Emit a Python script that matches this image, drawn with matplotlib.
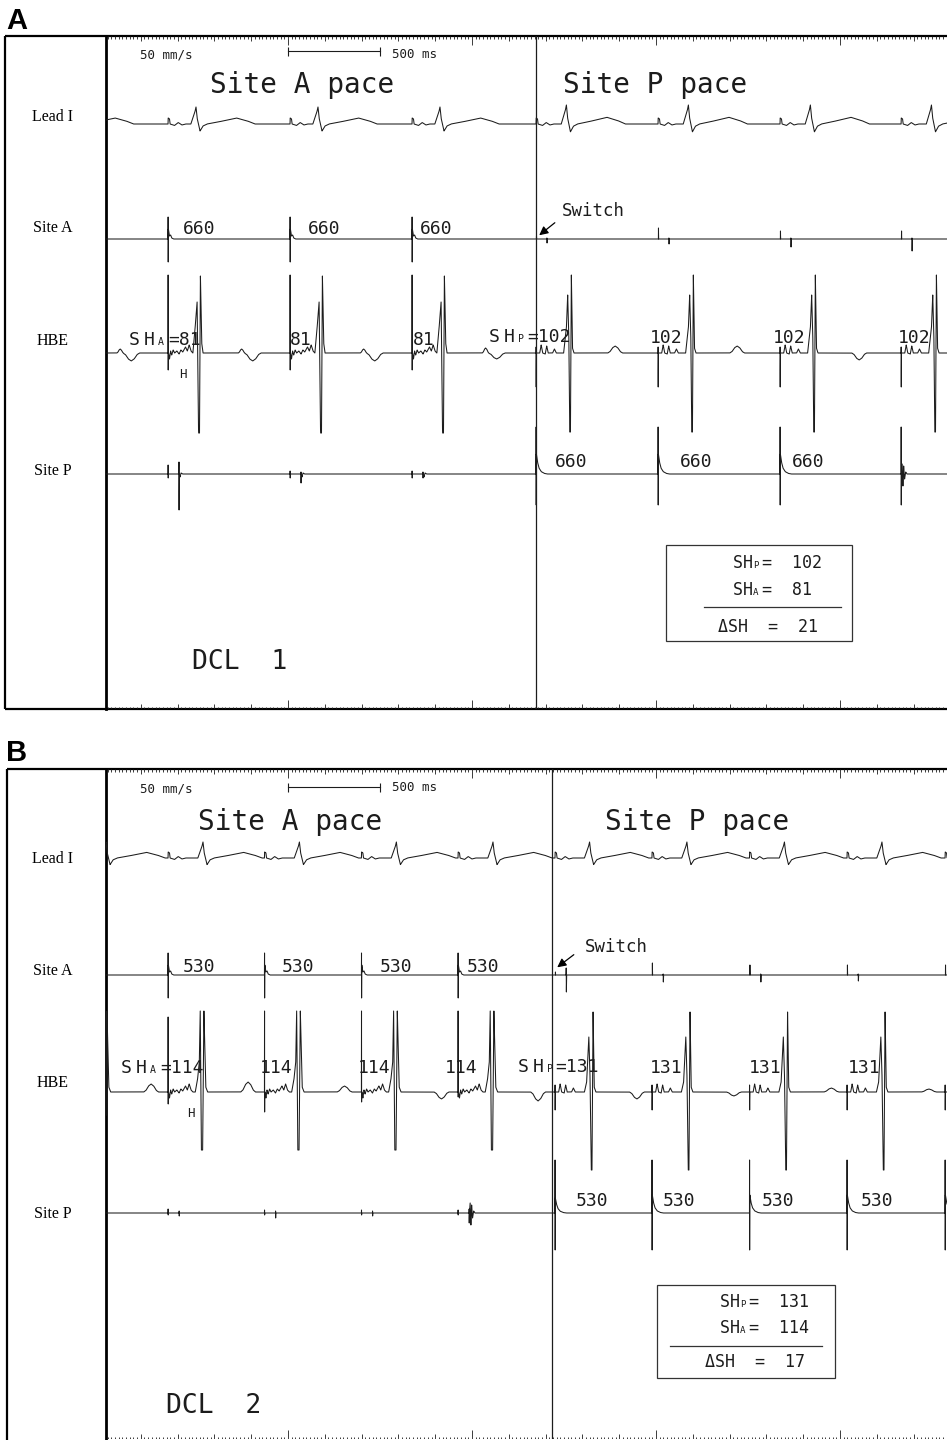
import numpy as np
import matplotlib
matplotlib.use("Agg")
import matplotlib.pyplot as plt
from matplotlib.patches import Rectangle

# ---------------------------------------------------------------- data
# stimulus times (ms); first entry of each Site-A list precedes the window
A_PACE_A = [-312, 348, 1011, 1674]
A_PACE_P = [2348, 3011, 3674, 4332]
A_SWITCH = 2348
B_PACE_A = [-179, 348, 872, 1399, 1924]
B_PACE_P = [2451, 2978, 3508, 4038, 4571]
B_SWITCH = 2435

A_CYCLE, A_SHA, A_SHP = 660, 81, 102
B_CYCLE, B_SHA, B_SHP = 530, 114, 131

CHANNELS = ["Lead I", "Site A", "HBE", "Site P"]

# Lead I: stimulus -> QRS peak delay (ms) and QRS peak height
A_LEAD_DELAY = [152, 152, 152, 152, 165, 165, 165, 165]
A_LEAD_AMP = [17, 17, 17, 17, 19, 19, 19, 19]
B_LEAD_DELAY = [190, 190, 190, 190, 190, 188, 190, 190, 190, 190]
B_LEAD_AMP = [16, 16, 16, 16, 16, 16, 16, 16, 16, 16]

# Site A electrogram during Site P pacing: tick at stimulus, later deflection
A_SA_TICK = [3, 11, 8, 8]
A_SA_DIP = [4, 5, 8, 12]
A_SA_DIP_UP = [1, 1, 1, 1]
B_SA_TICK = [3, 12, 10, 10, 10]
B_SA_DIP = [17, 7, 7, 6, 6]
B_SA_DIP_UP = [7, 1, 1, 1, 1]

# HBE
A_HBE_STIM_UP = [78, 78, 78, 78]
A_HBE_STIM_DN = [17, 17, 17, 17]
A_HBE_T_UP = [4, 4, 4, 5]
A_HBE_T_DN = [8, 8, 8, 6]
A_HBE_P_STIM_UP = [6, 6, 6, 6]
A_HBE_P_STIM_DN = [34, 34, 34, 34]
A_HBE_P_T = [7, 7, -7, 0]
B_HBE_STIM_UP = [80, 75, 81, 81, 81]
B_HBE_STIM_DN = [15, 12, 20, 10, 5]
B_HBE_T = [8, 10, 6, -7, -9]
B_HBE_P_STIM_UP = [7, 7, 7, 7, 7]
B_HBE_P_STIM_DN = [18, 18, 18, 18, 18]
B_HBE_P_T = [-7, -4, 4, 3, 0]

# Site P electrogram
A_SP_A_TICK = [9, 3, 3]
A_SP_A_DEF_UP = [12, 2, 2]
A_SP_A_DEF_DN = [36, 9, 4]
A_SP_P_UP = [47, 47, 47, 47]
A_SP_P_DN = [31, 31, 31, 31]
A_SP_P_DECAY = [20, 20, 20, 0]
A_SP_P_RING = [0, 0, 0, 1]
B_SP_A_TICK = [4, 3, 3, 3]
B_SP_A_DEF_UP = [2, 2, 2, 4]
B_SP_A_DEF_DN = [3, 5, 3, 10]
B_SP_A_RING = [0, 0, 0, 1]
B_SP_P_UP = [53, 53, 53, 53, 53]
B_SP_P_DN = [37, 37, 37, 37, 37]
B_SP_P_DECAY = [15, 18, 18, 18, 18]

# waveform shapes (ms offsets, amplitude)
LEAD_STIM_DT = [0, 1, 8, 11, 35, 55, 75, 95]
LEAD_STIM_Y = [0, 6, 5, 0, -1.5, 1.5, -1, 0]
LEAD_QRS_DT = [-28, -6, 0, 6, 22, 38, 60, 120, 220, 280, 320]
LEAD_QRS_Y = [0, 12, 17, 6, -7, -2, 0, 2, 6, 3, 0]
SA_ART_DT = [0, 0.5, 1.0, 1.5, 2.0, 8, 14, 20, 30]
SA_ART_Y = [0, 22, -23, 0, 10, 3, 4, 1, 0]
HBE_A_H_DT = [3, 8, 14, 20, 28, 36, 48, 60, 70, 80, 95, 105, 115, 125, 135]
HBE_A_H_Y = [0, -6, 2, -2, 3, 0, 2, -1, 3, 1, 6, 2, 8, 2, 0]
HBE_A_QRS_DT = [135, 145, 158, 162, 166, 171, 176, 183, 190]
HBE_A_QRS_Y = [0, 20, 51, -20, -80, -80, 77, 10, 0]
HBE_P_H_DT = [3, 20, 28, 36, 50, 58, 66, 90, 100, 110, 140]
HBE_P_H_Y = [0, 0, 8, 0, -1, 7, 0, 0, 4, 0, 0]
HBE_P_QRS_DT = [150, 165, 172, 178, 183, 187, 192, 198, 206]
HBE_P_QRS_Y = [0, 25, 58, 20, -79, -79, 78, 5, 0]
HBE_BA_QRS_DT = [148, 160, 170, 175, 181, 188, 195, 205, 215]
HBE_BA_QRS_Y = [0, 12, 30, 81, -58, -58, 81, 5, 0]
HBE_BP_QRS_DT = [160, 172, 184, 190, 197, 201, 207, 213, 222]
HBE_BP_QRS_Y = [0, 10, 55, 20, -78, -78, 80, 5, 0]
BUMP_DT = [-1, -0.7, -0.35, 0, 0.35, 0.7, 1]
BUMP_Y = [0, 0.2, 0.75, 1, 0.75, 0.2, 0]
DECAY_DT = [1.5, 2, 8, 16, 28, 45, 60]
DECAY_Y = [0, 1, 0.6, 0.3, 0.12, 0.03, 0]
RING_DT = [2, 6, 10, 14, 19, 25, 32]
RING_Y = [0, 10, -12, 8, -5, 2, 0]

# ---------------------------------------------------------------- layout
W, H = 947, 1440
K = 0.184          # px per ms (50 mm/s)
X0 = 106
MONO = "DejaVu Sans Mono"
SERIF = "Liberation Serif"
INK = "#1c1c1c"

fig = plt.figure(figsize=(W / 100, H / 100), dpi=100)
ax0 = fig.add_axes([0, 0, 1, 1])
ax0.set_xlim(0, W)
ax0.set_ylim(H, 0)
ax0.axis("off")


def panel_axes(top, bottom):
    ax = fig.add_axes([X0 / W, 1 - bottom / H, (W - X0) / W, (bottom - top) / H])
    ax.set_facecolor("none")
    ax.axis("off")
    ax.set_xlim(1000 - (288 - X0) / K, 1000 + (W - 288) / K)
    ax.set_ylim(bottom, top)
    return ax


def grid(ax):
    lo, hi = ax.get_xlim()
    return np.arange(np.floor(lo), np.ceil(hi), 0.25)


def add(y, t, s, dt, amp, scale=1.0):
    tt = s + np.asarray(dt, float)
    m = (t >= tt[0]) & (t <= tt[-1])
    y[m] += scale * np.interp(t[m], tt, np.asarray(amp, float))


def spike(y, t, s, up, dn):
    add(y, t, s, [0, 0.5, 1.0, 1.5], [0, up, -dn, 0])


def bump(y, t, c, amp, w):
    add(y, t, c, np.asarray(BUMP_DT) * w, np.asarray(BUMP_Y) * amp)


def ruler(ax, top, bottom):
    lo, hi = ax.get_xlim()
    ticks = np.arange(np.ceil(lo / 20) * 20, hi, 20)
    lens = np.where(ticks % 1000 == 0, 9, np.where(ticks % 200 == 0, 5, 2.5))
    ax.vlines(ticks, top, top + lens, color=INK, lw=0.6)
    ax.vlines(ticks, bottom - lens, bottom, color=INK, lw=0.6)


def frame(top, bottom, left):
    kw = dict(color="black", lw=1.6, solid_capstyle="butt")
    ax0.plot([left, W], [top, top], **kw)
    ax0.plot([left, W], [bottom, bottom], **kw)
    ax0.plot([left, left], [top, bottom], **kw)
    ax0.plot([X0, X0], [top, bottom], color="black", lw=2.0)


def txt(x, y, s, size=13, **kw):
    ax0.text(x, y, s, family=MONO, fontsize=size, va="baseline", color=INK, **kw)


def sh(x, y, sub, rest, size=13, h_dx=15, sub_dx=29, rest_dx=40):
    txt(x, y, "S", size)
    txt(x + h_dx, y, "H", size)
    txt(x + sub_dx, y, sub, size * 0.55)
    txt(x + rest_dx, y, rest, size)


def draw_trace(ax, t, base, sig):
    ax.plot(t, base - sig, color=INK, lw=0.75)


# ================================================================ panel A
ATOP, ABOT = 36, 709
axA = panel_axes(ATOP, ABOT)
tA = grid(axA)
A_BASE = [124, 239, 353, 474]

lead = np.zeros_like(tA)
for i, s in enumerate(A_PACE_A + A_PACE_P):
    add(lead, tA, s, LEAD_STIM_DT, LEAD_STIM_Y)
    add(lead, tA, s + A_LEAD_DELAY[i], LEAD_QRS_DT, LEAD_QRS_Y, A_LEAD_AMP[i] / 17)
draw_trace(axA, tA, A_BASE[0], lead)

sa = np.zeros_like(tA)
for s in A_PACE_A[1:]:
    add(sa, tA, s, SA_ART_DT, SA_ART_Y)
for i, s in enumerate(A_PACE_P):
    add(sa, tA, s + 2, [0, 0.5, 1.0], [0, A_SA_TICK[i], 0])
    add(sa, tA, s + 58, [0, 1, 2, 3, 6], [0, A_SA_DIP_UP[i], -A_SA_DIP[i], 0, 0])
draw_trace(axA, tA, A_BASE[1], sa)

hbe = np.zeros_like(tA)
for i, s in enumerate(A_PACE_A):
    spike(hbe, tA, s, A_HBE_STIM_UP[i], A_HBE_STIM_DN[i])
    add(hbe, tA, s, HBE_A_H_DT, HBE_A_H_Y)
    add(hbe, tA, s, HBE_A_QRS_DT, HBE_A_QRS_Y)
    bump(hbe, tA, s + 400, A_HBE_T_UP[i], 18)
    bump(hbe, tA, s + 460, -A_HBE_T_DN[i], 45)
for i, s in enumerate(A_PACE_P):
    spike(hbe, tA, s, A_HBE_P_STIM_UP[i], A_HBE_P_STIM_DN[i])
    add(hbe, tA, s, HBE_P_H_DT, HBE_P_H_Y)
    add(hbe, tA, s, HBE_P_QRS_DT, HBE_P_QRS_Y)
    bump(hbe, tA, s + 430, A_HBE_P_T[i], 40)
draw_trace(axA, tA, A_BASE[2], hbe)

sp = np.zeros_like(tA)
for i, s in enumerate(A_PACE_A[1:]):
    spike(sp, tA, s, A_SP_A_TICK[i], 4)
    spike(sp, tA, s + 59, A_SP_A_DEF_UP[i], A_SP_A_DEF_DN[i])
    add(sp, tA, s + 59, [2, 6, 12, 20], [0, -3, 1, 0])
for i, s in enumerate(A_PACE_P):
    spike(sp, tA, s, A_SP_P_UP[i], A_SP_P_DN[i])
    add(sp, tA, s, DECAY_DT, DECAY_Y, A_SP_P_DECAY[i])
    add(sp, tA, s, RING_DT, RING_Y, A_SP_P_RING[i])
draw_trace(axA, tA, A_BASE[3], sp)

axA.axvline(A_SWITCH, color=INK, lw=0.9)
ruler(axA, ATOP, ABOT)
axA.plot([1000, 1500], [51, 51], color=INK, lw=0.8)
axA.vlines([1000, 1500], 47, 56, color=INK, lw=0.8)

frame(ATOP, ABOT, 5)
ax0.text(6, 29, "A", family="Liberation Sans", weight="bold", fontsize=21, va="baseline")
txt(140, 59, "50 mm/s", 9)
txt(392, 58, "500 ms", 9)
txt(210, 93, "Site A pace", 20)
txt(563, 93, "Site P pace", 20)
for lab, yy in zip(CHANNELS, [117, 228, 341, 471]):
    ax0.text(53, yy, lab, family=SERIF, fontsize=11.5, ha="center", va="center")
for xx in [183, 308, 420]:
    txt(xx, 234, str(A_CYCLE))
for xx in [555, 680, 792]:
    txt(xx, 467, str(A_CYCLE))
sh(129, 345, "A", "=" + str(A_SHA), rest_dx=39)
for xx in [290, 413]:
    txt(xx, 345, str(A_SHA))
sh(489, 342, "P", "=" + str(A_SHP), rest_dx=38)
for xx in [650, 773, 898]:
    txt(xx, 343, str(A_SHP))
txt(183, 378, "H", 9, ha="center")
txt(562, 216, "Switch", 12.5)
ax0.annotate("", xy=(537, 237), xytext=(557, 221),
             arrowprops=dict(arrowstyle="-|>", color="black", lw=0.9, mutation_scale=13))
ax0.add_patch(Rectangle((666, 545), 186, 96, fill=False, ec="#333333", lw=0.9))
sh(733, 568, "P", "=  " + str(A_SHP), size=12, h_dx=10, sub_dx=20, rest_dx=29)
sh(733, 595, "A", "=  " + str(A_SHA), size=12, h_dx=10, sub_dx=20, rest_dx=29)
ax0.plot([704, 841], [607, 607], color="#333333", lw=0.9)
txt(718, 632, "\u0394SH  =  " + str(A_SHP - A_SHA), 12)
txt(192, 669, "DCL  1", 19)

# ================================================================ panel B
BTOP, BBOT = 769, 1439
axB = panel_axes(BTOP, BBOT)
tB = grid(axB)
B_BASE = [858, 975, 1092, 1213]

lead = np.zeros_like(tB)
for i, s in enumerate(B_PACE_A + B_PACE_P):
    add(lead, tB, s, LEAD_STIM_DT, LEAD_STIM_Y)
    add(lead, tB, s + B_LEAD_DELAY[i], LEAD_QRS_DT, LEAD_QRS_Y, B_LEAD_AMP[i] / 17)
draw_trace(axB, tB, B_BASE[0], lead)

sa = np.zeros_like(tB)
for s in B_PACE_A[1:]:
    add(sa, tB, s, SA_ART_DT, SA_ART_Y)
for i, s in enumerate(B_PACE_P):
    add(sa, tB, s + 2, [0, 0.5, 1.0], [0, B_SA_TICK[i], 0])
    add(sa, tB, s + 60, [0, 1, 2, 3, 6], [0, B_SA_DIP_UP[i], -B_SA_DIP[i], 0, 0])
draw_trace(axB, tB, B_BASE[1], sa)

hbe = np.zeros_like(tB)
for i, s in enumerate(B_PACE_A):
    spike(hbe, tB, s, B_HBE_STIM_UP[i], B_HBE_STIM_DN[i])
    add(hbe, tB, s, HBE_A_H_DT, HBE_A_H_Y)
    add(hbe, tB, s, HBE_BA_QRS_DT, HBE_BA_QRS_Y)
    bump(hbe, tB, s + 435, B_HBE_T[i], 40)
for i, s in enumerate(B_PACE_P):
    spike(hbe, tB, s, B_HBE_P_STIM_UP[i], B_HBE_P_STIM_DN[i])
    add(hbe, tB, s, HBE_P_H_DT, HBE_P_H_Y)
    add(hbe, tB, s, HBE_BP_QRS_DT, HBE_BP_QRS_Y)
    bump(hbe, tB, s + 445, B_HBE_P_T[i], 40)
draw_trace(axB, tB, B_BASE[2], hbe)

sp = np.zeros_like(tB)
for i, s in enumerate(B_PACE_A[1:]):
    spike(sp, tB, s, B_SP_A_TICK[i], 2)
    spike(sp, tB, s + 60, B_SP_A_DEF_UP[i], B_SP_A_DEF_DN[i])
    add(sp, tB, s + 60, RING_DT, RING_Y, B_SP_A_RING[i])
for i, s in enumerate(B_PACE_P):
    spike(sp, tB, s, B_SP_P_UP[i], B_SP_P_DN[i])
    add(sp, tB, s, DECAY_DT, DECAY_Y, B_SP_P_DECAY[i])
draw_trace(axB, tB, B_BASE[3], sp)

axB.axvline(B_SWITCH, color=INK, lw=0.9)
ruler(axB, BTOP, BBOT)
axB.plot([1000, 1500], [787, 787], color=INK, lw=0.8)
axB.vlines([1000, 1500], 783, 792, color=INK, lw=0.8)

frame(BTOP, BBOT + 5, 7)
ax0.text(6, 761, "B", family="Liberation Sans", weight="bold", fontsize=21, va="baseline")
txt(140, 792, "50 mm/s", 9)
txt(392, 791, "500 ms", 9)
txt(198, 830, "Site A pace", 20)
txt(605, 830, "Site P pace", 20)
for lab, yy in zip(CHANNELS, [859, 971, 1083, 1214]):
    ax0.text(53, yy, lab, family=SERIF, fontsize=11.5, ha="center", va="center")
for xx in [183, 282, 380, 467]:
    txt(xx, 972, str(B_CYCLE))
for xx in [576, 663, 762, 861]:
    txt(xx, 1206, str(B_CYCLE))
sh(121, 1073, "A", "=" + str(B_SHA), rest_dx=39)
for xx in [260, 358, 445]:
    txt(xx, 1073, str(B_SHA))
sh(518, 1072, "P", "=" + str(B_SHP), rest_dx=37)
for xx in [650, 749, 848]:
    txt(xx, 1073, str(B_SHP))
txt(191, 1117, "H", 9, ha="center")
txt(585, 952, "Switch", 12.5)
ax0.annotate("", xy=(555, 969), xytext=(576, 953),
             arrowprops=dict(arrowstyle="-|>", color="black", lw=0.9, mutation_scale=13))
ax0.add_patch(Rectangle((657, 1285), 178, 93, fill=False, ec="#333333", lw=0.9))
sh(720, 1307, "P", "=  " + str(B_SHP), size=12, h_dx=10, sub_dx=20, rest_dx=29)
sh(720, 1333, "A", "=  " + str(B_SHA), size=12, h_dx=10, sub_dx=20, rest_dx=29)
ax0.plot([670, 822], [1346, 1346], color="#333333", lw=0.9)
txt(705, 1367, "\u0394SH  =  " + str(B_SHP - B_SHA), 12)
txt(166, 1413, "DCL  2", 19)

fig.savefig("out.png", dpi=100, facecolor="white")
